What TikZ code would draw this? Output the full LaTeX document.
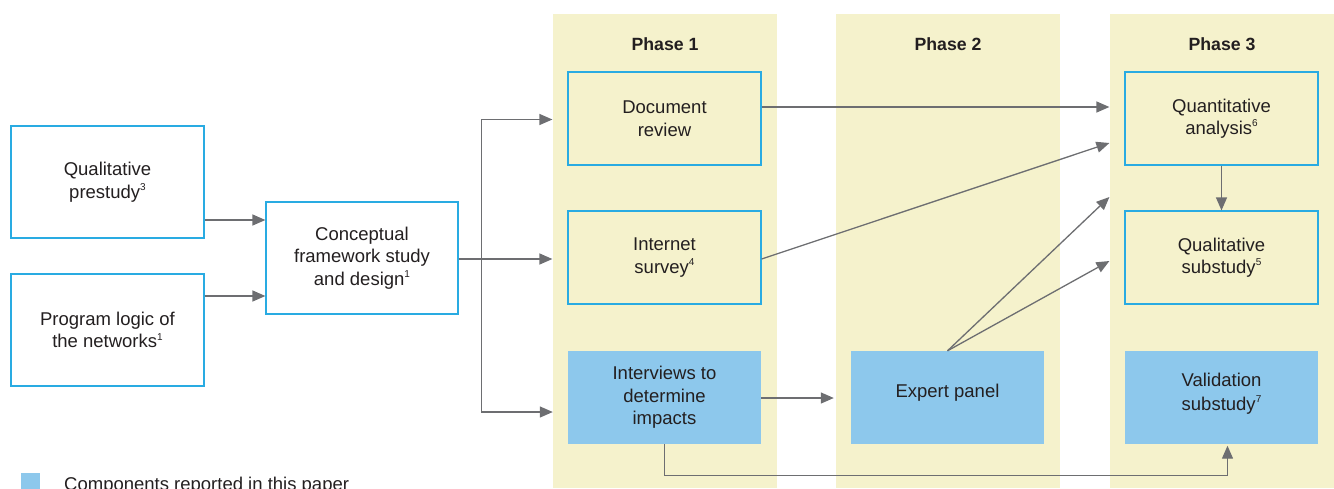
\documentclass[tikz,border=0pt]{standalone}
\usepackage{fontspec}
\setmainfont{Liberation Sans}
\usetikzlibrary{arrows.meta,calc}
\definecolor{phasebg}{HTML}{F5F2CC}
\definecolor{boxline}{HTML}{29ABE2}
\definecolor{boxfill}{HTML}{8DC8EC}
\definecolor{arrowgray}{HTML}{6D6E71}
\definecolor{txt}{HTML}{231F20}
\newcommand\fnote[1]{\raisebox{0.42em}{\fontsize{10}{10}\selectfont #1}}
% shift a block of lines upward without changing its reported size
\newcommand\liftlines[2]{\raisebox{#1}[\height][\depth]{\begin{tabular}{@{}c@{}}#2\end{tabular}}}
\begin{document}
\begin{tikzpicture}[x=1pt,y=-1pt,
  every node/.style={font=\fontsize{18.5}{22.5}\selectfont, text=txt, align=center, inner sep=0pt},
  stage/.style={draw=boxline, line width=1.2pt, minimum width=193pt, minimum height=93pt},
  prebox/.style={stage, fill=white, minimum height=112pt},
  reported/.style={fill=boxfill, minimum width=193pt, minimum height=93pt},
  phasetitle/.style={font=\fontsize{17.7}{20}\selectfont\bfseries},
  wire/.style={draw=arrowgray, line width=1.3pt},
  link/.style={wire, -{Triangle[length=13pt,width=11pt]}}]

\clip (0,0) rectangle (1334,488);

% phase columns
\fill[phasebg] (553,14) rectangle (777,488);
\fill[phasebg] (836,14) rectangle (1060,488);
\fill[phasebg] (1110,14) rectangle (1334,488);
\node[phasetitle] (p1) at (665,44) {Phase 1};
\node[phasetitle] (p2) at (948,44) {Phase 2};
\node[phasetitle] (p3) at (1222,44) {Phase 3};

% preparatory work
\node[prebox] (pre) at (107.5,182) {Qualitative\\prestudy\fnote{3}};
\node[prebox] (prog) at (107.5,330) {Program logic of\\the networks\fnote{1}};
\node[prebox, minimum width=192pt] (con) at (362,258) {Conceptual\\framework study\\and design\fnote{1}};

% phase 1
\node[stage] (doc) at (664.5,118.5) {Document\\review};
\node[stage] (inet) at (664.5,257.5) {Internet\\survey\fnote{4}};
\node[reported] (intv) at (664.5,397.5) {Interviews to\\determine\\impacts};

% phase 2
\node[reported] (exp) at (947.5,397.5) {\raisebox{13pt}{Expert panel}};

% phase 3
\node[stage] (quant) at (1221.5,118.5) {Quantitative\\analysis\fnote{6}};
\node[stage] (qual) at (1221.5,257.5) {Qualitative\\substudy\fnote{5}};
\node[reported] (val) at (1221.5,397.5) {\liftlines{4pt}{Validation\\[1.5pt]substudy\fnote{7}}};

% legend
\fill[boxfill] (21,473) rectangle (40,492);
\node[anchor=base west] (leg) at (64,490.5) {Components reported in this paper};

% inputs to the conceptual framework
\coordinate (a1) at ($(pre.east)+(0,38)$);
\coordinate (a2) at ($(prog.east)+(0,-34)$);
\draw[link] (a1) -- (a1 -| con.west);
\draw[link] (a2) -- (a2 -| con.west);

% framework feeds phase 1
\coordinate (fork) at ($(con.east)+(23,1)$);
\coordinate (tdoc) at ($(doc.west)+(-15,1)$);
\coordinate (tinet) at ($(inet.west)+(-15,1.5)$);
\coordinate (tintv) at ($(intv.west)+(-15,14.5)$);
\draw[wire] (con.east |- fork) -- (fork);
\draw[link] (fork) |- (tdoc);
\draw[link] (fork) -- (tinet);
\draw[link] (fork) |- (tintv);

% links into phase 3
\coordinate (d1) at ($(doc.east)+(0,-11.5)$);
\coordinate (q1) at ($(quant.west)+(-15,-11.5)$);
\coordinate (d2) at ($(inet.east)+(0,1.5)$);
\coordinate (q2) at ($(quant.west)+(-15,24.5)$);
\coordinate (q3) at ($(qual.west)+(-15,-60.5)$);
\coordinate (q4) at ($(qual.west)+(-15,3.5)$);
\draw[link] (d1) -- (q1);
\draw[link] (d2) -- (q2);
\draw[link] (exp.north) -- (q3);
\draw[link] (exp.north) -- (q4);
\draw[link] (quant.south) -- (qual.north);

% interviews to expert panel and validation
\coordinate (e1) at ($(intv.east)+(0,0.5)$);
\draw[link, shorten >=17pt] (e1) -- (e1 -| exp.west);
\coordinate (lp) at ($(intv.south)+(0,31)$);
\coordinate (vt) at ($(val.south)+(6,1.5)$);
\draw[link] (intv.south) -- (lp) -| (vt);
\end{tikzpicture}
\end{document}
